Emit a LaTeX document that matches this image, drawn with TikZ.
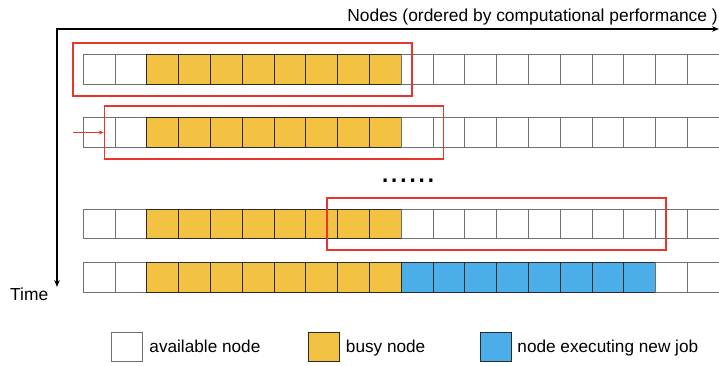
\documentclass[tikz,border=0pt]{standalone}
\usepackage{fontspec}
\setmainfont{Liberation Sans}
\usetikzlibrary{arrows.meta, positioning, fit}
\definecolor{busyY}{HTML}{F4C242}
\definecolor{newjobB}{HTML}{4BAEE8}
\definecolor{frameR}{HTML}{E8362C}
\definecolor{gridG}{HTML}{707070}
\definecolor{edgeK}{HTML}{2B2B2B}

\begin{document}
\begin{tikzpicture}[
  x=1pt, y=-1pt,
  cell/.style={
    draw=gridG, fill=white,
    line width=0.9pt,
    minimum width=31.8pt, minimum height=29.4pt,
    inner sep=0pt, outer sep=0pt
  },
  busy/.style={cell, draw=edgeK, fill=busyY},
  newjob/.style={cell, draw=edgeK, fill=newjobB},
  legbox/.style={cell, minimum width=30.5pt, minimum height=29pt},
  window/.style={
    draw=frameR, line width=1.7pt,
    inner xsep=10.5pt, inner ysep=11.5pt
  },
  axis/.style={{Stealth[length=7pt,width=5.5pt]}-{Stealth[length=7pt,width=5.5pt]}, line width=1.8pt, black},
  pusharr/.style={-{Stealth[length=5pt,width=4pt]}, line width=1.2pt, frameR},
  label/.style={font=\fontsize{17.4}{19}\selectfont, inner sep=0pt},
  legtext/.style={font=\fontsize{17.2}{19}\selectfont, inner sep=0pt, yshift=-5.5pt}
]
\useasboundingbox (0,0) rectangle (719,365);

%% ═══ AXES ═══
\coordinate (origin) at (57,29);
\coordinate (nodesend) at (719,29);
\coordinate (timeend) at (57,287);
\draw[axis] (nodesend) -- (origin) -- (timeend);

\node[label, anchor=base east] (nodeslbl) at (718,21)
  {Nodes (ordered by computational performance )};
\node[label, anchor=base west] (timelbl) at (10,300) {Time};

%% ═══ NODE ROWS ═══
\foreach \row/\ypos in {1/69.5, 2/132.5, 3/224, 4/277.5}{
  \foreach \c in {1,...,20}{
    \pgfmathsetmacro\xpos{83.3+31.8*(\c-0.5)}
    \ifnum\c<3 \def\kind{cell}\else\ifnum\c<11 \def\kind{busy}\else\def\kind{cell}\fi\fi
    \ifnum\row=4 \ifnum\c>10 \ifnum\c<19 \def\kind{newjob}\fi\fi\fi
    \node[\kind] (r\row c\c) at (\xpos,\ypos) {};
  }
}

\node[font=\fontsize{33}{33}\selectfont, inner sep=0pt, anchor=base] (dots)
  at (408,182) {......};

%% ═══ SCHEDULING WINDOWS ═══
\node[window, fit=(r1c1)(r1c10)] (win1) {};
\node[window, fit=(r2c2)(r2c11)] (win2) {};
\node[window, fit=(r3c9)(r3c18)] (win3) {};

\coordinate (push) at (73,132.5);
\draw[pusharr] (push) -- (win2.west);

%% ═══ LEGEND ═══
\node[legbox] (legfree) at (127,346.5) {};
\node[legtext, base right=7pt of legfree] (legfreetxt) {available node};

\node[legbox, draw=edgeK, fill=busyY] (legbusy) at (324,346.5) {};
\node[legtext, base right=6.5pt of legbusy] (legbusytxt) {busy node};

\node[legbox, draw=edgeK, fill=newjobB] (legnew) at (496,346.5) {};
\node[legtext, base right=6pt of legnew] (legnewtxt) {node executing new job};

\end{tikzpicture}
\end{document}
